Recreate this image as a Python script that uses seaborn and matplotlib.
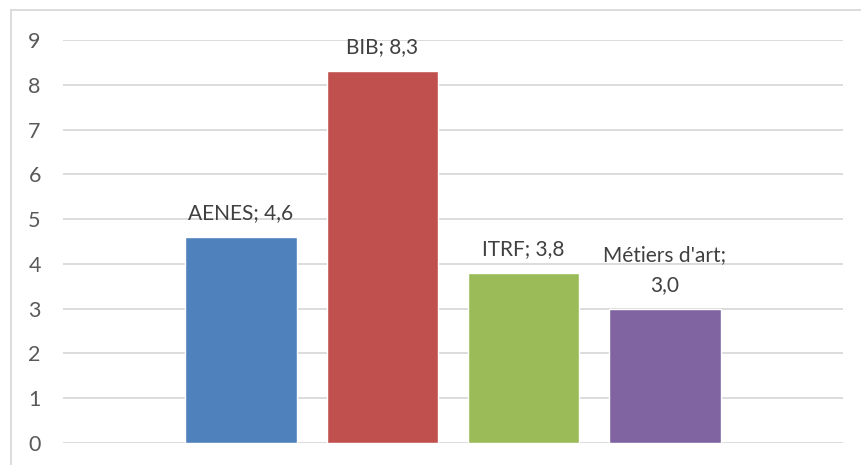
import matplotlib.pyplot as plt
import pandas as pd
import seaborn as sns
from matplotlib.lines import Line2D

categories = ["AENES", "BIB", "ITRF", "Métiers d'art"]
values = [4.6, 8.3, 3.8, 3.0]
labels = ["AENES; 4,6", "BIB; 8,3", "ITRF; 3,8", "Métiers d'art;\n3,0"]
colors = ["#4F81BD", "#C0504D", "#9BBB59", "#8064A2"]
yticks = [0, 1, 2, 3, 4, 5, 6, 7, 8, 9]

sns.set_style("white")
plt.rcParams["font.family"] = ["Lato", "DejaVu Sans"]

df = pd.DataFrame({"cat": categories, "val": values})

fig = plt.figure(figsize=(8.62, 4.65), dpi=100)
ax = fig.add_axes([63 / 862, 1 - 443 / 465, 780 / 862, (443 - 40) / 465])

sns.barplot(
    data=df, x="cat", y="val", hue="cat", palette=colors,
    width=0.79, saturation=1, legend=False, ax=ax, zorder=2,
)

ax.set_ylim(0, 9)
ax.set_xlim(-1.26, 4.26)
ax.set_yticks(yticks)
ax.set_yticklabels([str(t) for t in yticks])
ax.yaxis.grid(True, color="#D9D9D9", linewidth=1.3, zorder=0)
ax.set_axisbelow(True)
ax.set_xticks([])
ax.set_xlabel("")
ax.set_ylabel("")
for s in ax.spines.values():
    s.set_visible(False)
ax.tick_params(axis="y", length=0, pad=16, labelsize=15.5, labelcolor="#595959")

for i, (v, lab) in enumerate(zip(values, labels)):
    ax.annotate(
        lab, (i, v), xytext=(0, 10), textcoords="offset points",
        ha="center", va="bottom", fontsize=15, color="#404040",
        linespacing=1.6,
    )

# chart frame (top and left edges visible)
fig.add_artist(Line2D([11 / 862, 11 / 862], [0, 1 - 10 / 465], color="#D9D9D9", lw=1.3))
fig.add_artist(Line2D([11 / 862, 1], [1 - 10 / 465, 1 - 10 / 465], color="#D9D9D9", lw=1.3))

fig.savefig("out.png", dpi=100)
